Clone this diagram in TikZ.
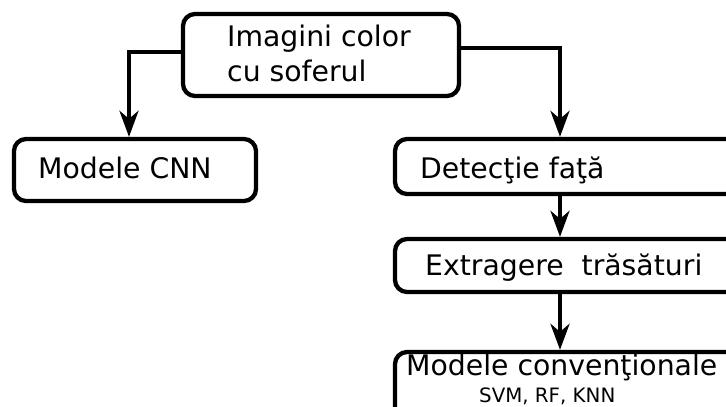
\documentclass[tikz,border=0pt]{standalone}
\usepackage{fontspec}
\setmainfont{DejaVu Sans}
\usetikzlibrary{arrows.meta}
\begin{document}
\begin{tikzpicture}[x=1pt,y=-1pt,
  box/.style={draw=black,line width=4.3pt,rounded corners=12pt,rectangle,inner sep=0pt,anchor=center},
  big/.style={font=\fontsize{28.3}{34}\selectfont,inner sep=0pt,anchor=base west},
  small/.style={font=\fontsize{19.8}{22}\selectfont,inner sep=0pt,anchor=base west},
  arr/.style={line width=4pt,-{Stealth[length=26pt,width=19pt,inset=8pt]}}]
\clip (0,0) rectangle (726,407);
\fill[white] (0,0) rectangle (726,407);
% boxes
\node[box,minimum width=276pt,minimum height=82pt] (top) at (321,55) {};
\node[box,minimum width=242pt,minimum height=62pt] (cnn) at (135,170) {};
\node[box,minimum width=365pt,minimum height=55pt] (det) at (577.5,166.5) {};
\node[box,minimum width=365pt,minimum height=53pt] (ext) at (577.5,265.5) {};
\node[box,minimum width=365pt,minimum height=68pt] (conv) at (577.5,386) {};
% texts
\node[big] (t1) at (227,46) {Imagini color};
\node[big] (t2) at (227,81) {cu soferul};
\node[big] (t3) at (38,178) {Modele CNN};
\node[big] (t4) at (420,178) {Detecţie faţă};
\node[big] (t5) at (425,275) {Extragere~ trăsături};
\node[big] (t6) at (406,375) {Modele convenţionale};
\node[small] (t7) at (479,402) {SVM, RF, KNN};
% connectors
\coordinate (lc) at (129,0);
\coordinate (rc) at (560,0);
\draw[arr] ([yshift=3pt]top.west) -| (cnn.north -| lc);
\draw[arr] ([yshift=7pt]top.east) -| (det.north -| rc);
\draw[arr] (det.south -| rc) -- (ext.north -| rc);
\draw[arr] (ext.south -| rc) -- (conv.north -| rc);
\end{tikzpicture}
\end{document}
